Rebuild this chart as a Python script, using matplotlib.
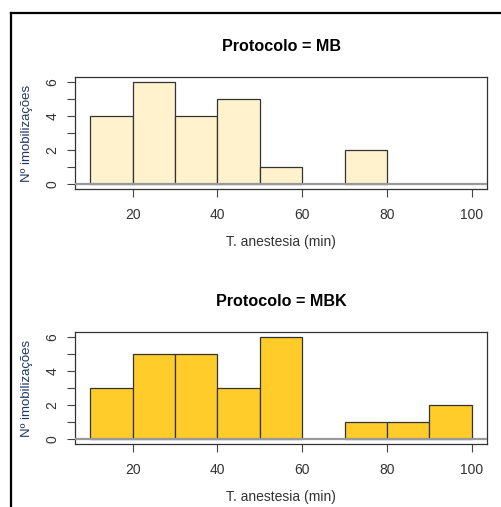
import numpy as np
import matplotlib.pyplot as plt
from matplotlib.lines import Line2D

plt.rcParams['font.family'] = ['Liberation Sans', 'DejaVu Sans']

# histogram data (bin edges in minutes, counts per bin)
bin_edges = [10, 20, 30, 40, 50, 60, 70, 80, 90, 100]
counts_mb = [4, 6, 4, 5, 1, 0, 2, 0, 0]
counts_mbk = [3, 5, 5, 3, 6, 0, 1, 1, 2]
titles = ["Protocolo = MB", "Protocolo = MBK"]
colors = ["#FFF2CC", "#FFCC29"]
x_ticks = [20, 40, 60, 80, 100]
y_labels = [0, 2, 4, 6]

W, H = 502, 507
fig = plt.figure(figsize=(W / 100, H / 100), dpi=100)

# frame lines (top and left only)
fig.add_artist(Line2D([11 / W, 1.0], [1 - 13 / H, 1 - 13 / H], color="black", lw=1.6))
fig.add_artist(Line2D([11 / W, 11 / W], [1 - 13 / H, 0.0], color="black", lw=1.6))

# axes boxes in pixels: (left, top, right, bottom)
boxes = [(75, 77, 487, 189), (75, 332, 487, 444)]

edges = np.array(bin_edges)
for counts, title, col, box in zip([counts_mb, counts_mbk], titles, colors, boxes):
    l, t, r, b = box
    ax = fig.add_axes([l / W, 1 - b / H, (r - l) / W, (b - t) / H])
    counts = np.array(counts)
    nz = counts > 0
    ax.bar(edges[:-1][nz], counts[nz], width=10, align="edge",
           color=col, edgecolor="#333333", linewidth=0.9, zorder=2)
    ax.axhline(0, color="#999999", lw=1.6, zorder=3)
    ax.set_xlim(6.4, 103.6)
    ax.set_ylim(-0.28, 6.28)
    ax.set_xticks(x_ticks)
    ax.set_yticks(y_labels)
    ax.set_yticks([1, 3, 5], minor=True)
    ax.tick_params(axis="both", which="both", direction="out", length=6,
                   width=0.8, color="#444444", labelcolor="#333333", labelsize=10)
    ax.tick_params(axis="y", which="major", labelrotation=90, pad=5)
    for lab in ax.get_yticklabels():
        lab.set_va("center")
    ax.tick_params(axis="x", pad=8)
    for sp in ax.spines.values():
        sp.set_color("#333333")
        sp.set_linewidth(0.9)
    ax.set_title(title, fontsize=11.6, fontweight="bold", pad=19)
    ax.set_xlabel("T. anestesia (min)", fontsize=10, color="#333333", labelpad=9)
    ax.set_ylabel("Nº imobilizações", fontsize=9.5, color="#1F3864", labelpad=9)

fig.savefig("out.png", dpi=100)
